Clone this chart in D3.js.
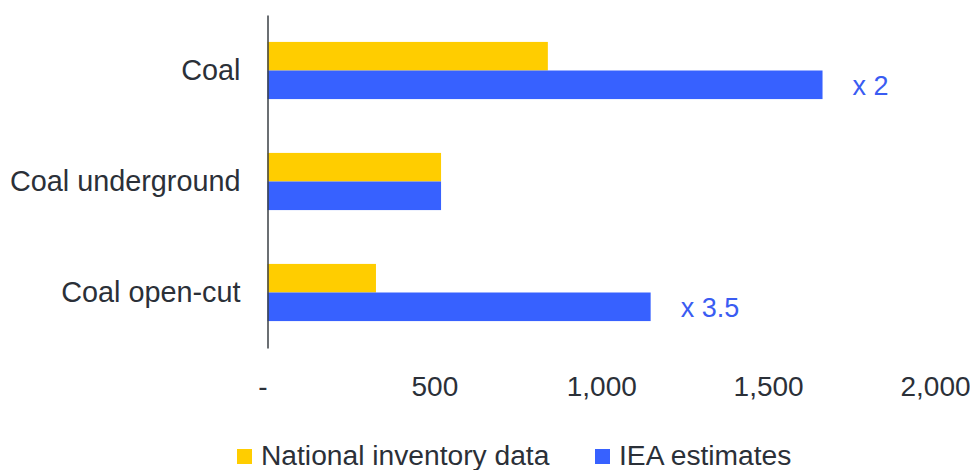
<!DOCTYPE html>
<html>
<head>
<meta charset="utf-8">
<script src="https://cdn.jsdelivr.net/npm/d3@7"></script>
<style>
  html, body { margin: 0; padding: 0; background: #fff; }
  text { font-family: "Liberation Sans", Arial, sans-serif; }
</style>
</head>
<body>
<div id="g"></div>
<script>
// chart data
var categories = ["Coal", "Coal underground", "Coal open-cut"];
var seriesNames = ["National inventory data", "IEA estimates"];
var nationalValues = [840, 520, 325];
var ieaValues = [1663, 520, 1148];
var ratioLabels = ["x 2", "", "x 3.5"];
var xTicks = [0, 500, 1000, 1500, 2000];

var WIDTH = 970, HEIGHT = 470;
var YELLOW = "#ffcd00", BLUE = "#3761ff", TEXT = "#2b3038";

var svg = d3.select("#g").append("svg")
    .attr("width", WIDTH)
    .attr("height", HEIGHT);

var x = d3.scaleLinear().domain([0, 2000]).range([267.5, 935]);

var y = d3.scaleBand().domain(categories).range([15, 348])
    .paddingInner(0.485).paddingOuter(0.2425);

var sub = d3.scaleBand().domain(seriesNames).range([0, y.bandwidth()]);

var rows = categories.map(function(c, i) {
    return [
        { cat: c, series: seriesNames[0], value: nationalValues[i], fill: YELLOW },
        { cat: c, series: seriesNames[1], value: ieaValues[i], fill: BLUE }
    ];
});

svg.append("g").selectAll("rect")
    .data(d3.merge(rows))
    .enter()
    .append("rect")
    .attr("x", x(0))
    .attr("y", function(d) { return y(d.cat) + sub(d.series); })
    .attr("width", function(d) { return x(d.value) - x(0); })
    .attr("height", sub.bandwidth())
    .attr("fill", function(d) { return d.fill; });

// y axis: only the line and the category names
var yAxis = svg.append("g")
    .attr("transform", "translate(" + x(0) + ",0)")
    .call(d3.axisLeft(y).tickSize(0).tickPadding(27));
yAxis.select(".domain").attr("stroke", "#3a3f44").attr("stroke-width", 1.5);
yAxis.selectAll("text")
    .attr("font-size", 28.8)
    .attr("fill", TEXT)
    .attr("font-family", "Liberation Sans, Arial, sans-serif")
    .attr("dy", "0.34em");

// x axis: labels only
var xAxis = svg.append("g")
    .attr("transform", "translate(0,371)")
    .call(d3.axisBottom(x).tickValues(xTicks).tickSize(0).tickPadding(0)
        .tickFormat(function(d) { return d === 0 ? "-" : d3.format(",")(d); }));
xAxis.select(".domain").remove();
xAxis.selectAll("text")
    .attr("font-size", 28)
    .attr("fill", TEXT)
    .attr("font-family", "Liberation Sans, Arial, sans-serif")
    .attr("dy", "0.9em")
    .attr("dx", function(d) { return d === 0 ? -5 : 0; });

// ratio notes next to the blue bars
svg.append("g").selectAll("text")
    .data(categories)
    .enter()
    .append("text")
    .attr("x", function(d, i) { return x(ieaValues[i]) + 30; })
    .attr("y", function(d) { return y(d) + sub(seriesNames[1]) + sub.bandwidth() / 2; })
    .attr("dy", "0.36em")
    .attr("font-size", 27)
    .attr("fill", "#3a5cf2")
    .text(function(d, i) { return ratioLabels[i]; });

// legend
var legendX = [237, 595];
var legend = svg.append("g").selectAll("g")
    .data(seriesNames)
    .enter()
    .append("g")
    .attr("transform", function(d, i) { return "translate(" + legendX[i] + ",449)"; });
legend.append("rect")
    .attr("width", 15)
    .attr("height", 15)
    .attr("fill", function(d, i) { return i === 0 ? YELLOW : BLUE; });
legend.append("text")
    .attr("x", 24)
    .attr("y", 16)
    .attr("font-size", 28.2)
    .attr("fill", TEXT)
    .text(function(d) { return d; });
</script>
</body>
</html>
